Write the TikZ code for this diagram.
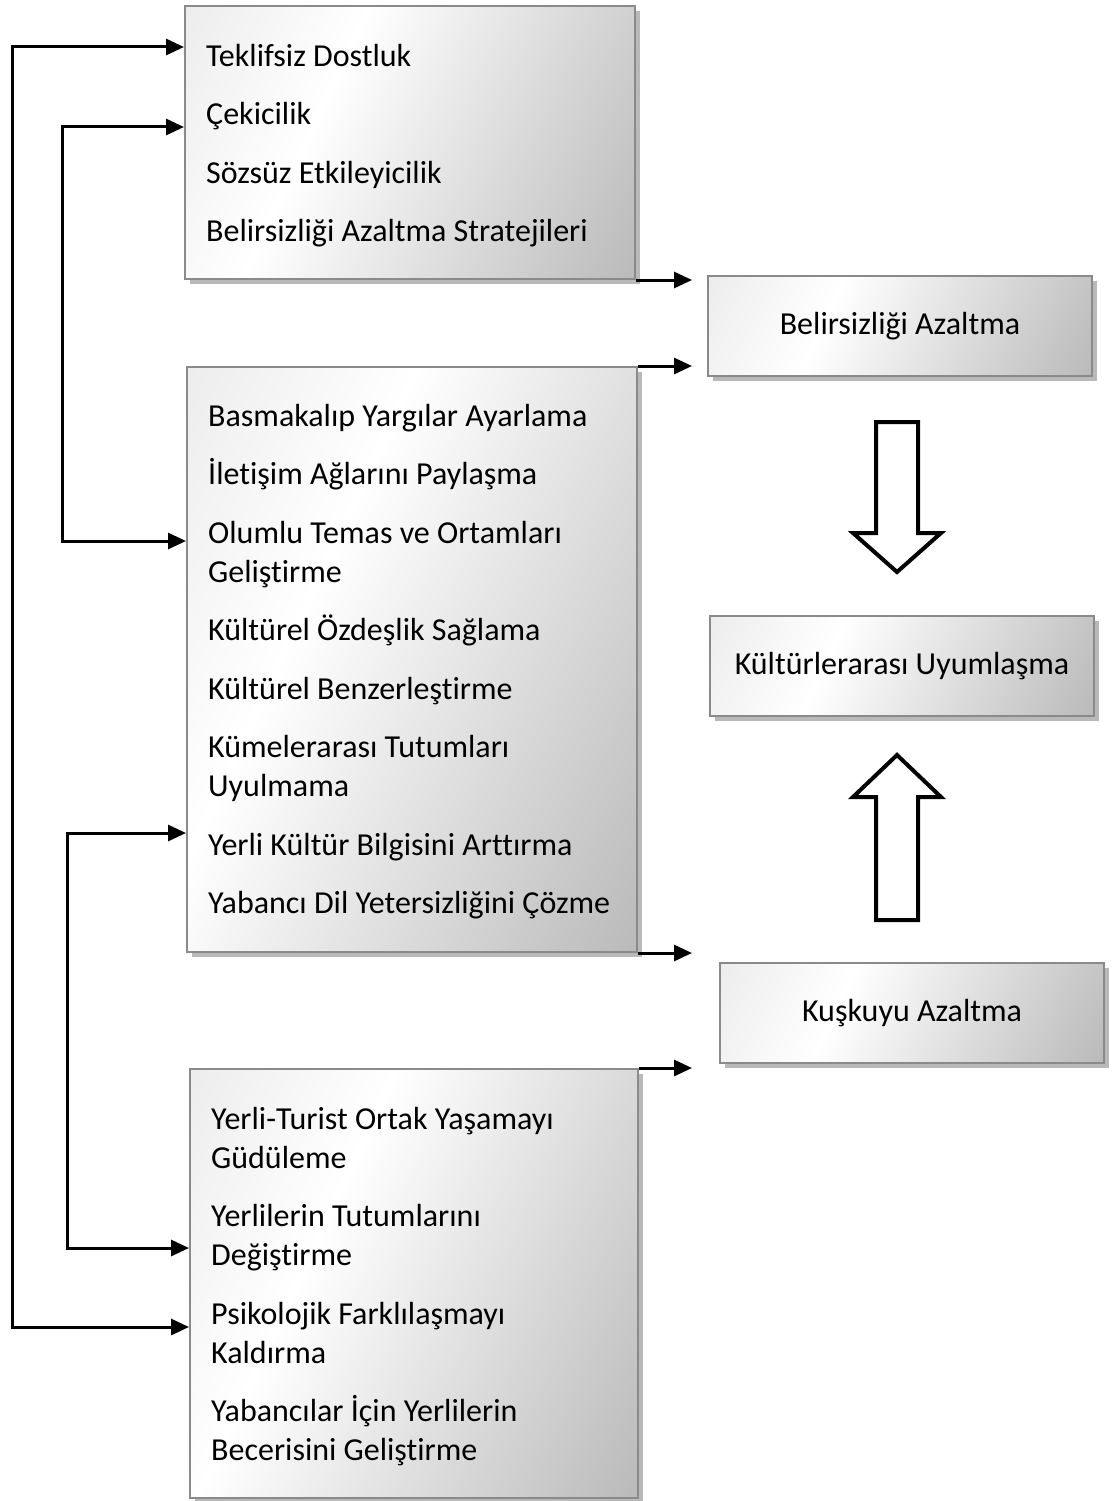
\documentclass[tikz,border=0pt]{standalone}
\usepackage{fontspec}
\setmainfont[Ligatures=CommonOff]{Carlito}
\usepackage{tikz}
\usetikzlibrary{positioning,shadows,arrows.meta}
\definecolor{boxborder}{RGB}{138,138,138}
\definecolor{boxshadow}{RGB}{185,185,185}
\definecolor{shadelight}{RGB}{222,222,222}
\definecolor{shadedark}{RGB}{160,160,160}
\pgfdeclarehorizontalshading{boxshade}{100bp}{color(0bp)=(shadelight); color(38bp)=(white); color(100bp)=(shadedark)}
\tikzset{
    grad-box/.style = {draw=boxborder, line width=2pt, rectangle, shading=boxshade, shading angle=-25, inner sep=0pt, anchor=north west,
        drop shadow={shadow xshift=5pt, shadow yshift=-5pt, fill=boxshadow, opacity=1}},
    item-text/.style = {inner sep=0pt, align=left, font=\fontsize{32}{39}\selectfont},
    link/.style = {line width=3pt, -{Triangle[length=18pt, width=16pt]}},
    link-both/.style = {line width=3pt, {Triangle[length=18pt, width=16pt]}-{Triangle[length=18pt, width=16pt]}},
    block-arrow/.style = {draw=black, line width=4pt, fill=white, line join=miter},
}

\begin{document}
\begin{tikzpicture}[x=1pt, y=-1pt]
\useasboundingbox (0,0) rectangle (1114,1501);

% left boxes
\node[grad-box, minimum width=450pt, minimum height=273pt] (b1) at (184,5) {};
\node[grad-box, minimum width=450pt, minimum height=585pt] (b3) at (186,366) {};
\node[grad-box, minimum width=448pt, minimum height=429pt] (b6) at (189,1068) {};

\node[item-text, right=22pt of b1.west, yshift=-3pt] (t1) {Teklifsiz Dostluk\\[19.5pt]
    Çekicilik\\[19.5pt]
    Sözsüz Etkileyicilik\\[19.5pt]
    Belirsizliği Azaltma Stratejileri};
\node[item-text, right=22pt of b3.west, yshift=-2pt] (t3) {Basmakalıp Yargılar Ayarlama\\[19.5pt]
    İletişim Ağlarını Paylaşma\\[19.5pt]
    Olumlu Temas ve Ortamları\\Geliştirme\\[19.5pt]
    Kültürel Özdeşlik Sağlama\\[19.5pt]
    Kültürel Benzerleştirme\\[19.5pt]
    Kümelerarası Tutumları\\Uyulmama\\[19.5pt]
    Yerli Kültür Bilgisini Arttırma\\[19.5pt]
    Yabancı Dil Yetersizliğini Çözme};
\node[item-text, right=22pt of b6.west, yshift=-3pt] (t6) {Yerli-Turist Ortak Yaşamayı\\Güdüleme\\[19.5pt]
    Yerlilerin Tutumlarını\\Değiştirme\\[19.5pt]
    Psikolojik Farklılaşmayı\\Kaldırma\\[19.5pt]
    Yabancılar İçin Yerlilerin\\Becerisini Geliştirme};

% right boxes
\node[grad-box, minimum width=384pt, minimum height=100pt, item-text] (b2) at (707,275) {Belirsizliği Azaltma};
\node[grad-box, minimum width=384pt, minimum height=100pt, item-text] (b4) at (709,615) {Kültürlerarası Uyumlaşma};
\node[grad-box, minimum width=384pt, minimum height=100pt, item-text] (b5) at (719,962) {Kuşkuyu Azaltma};

% block arrows
\draw[block-arrow] (876,422) -- (918,422) -- (918,533) -- (941,533) -- (897,572) -- (853,533) -- (876,533) -- cycle;
\draw[block-arrow] (876,920) -- (918,920) -- (918,797) -- (941,797) -- (897,755) -- (853,797) -- (876,797) -- cycle;

% feedback lines
\coordinate (in1) at (184,47);
\coordinate (in2) at (184,127);
\coordinate (in3) at (186,541);
\coordinate (in4) at (186,833);
\coordinate (in5) at (189,1248);
\coordinate (in6) at (189,1327);
\draw[link-both] (in1) -- ++(-172,0) |- (in6);
\draw[link-both] (in2) -- ++(-122,0) |- (in3);
\draw[link-both] (in4) -- ++(-119,0) |- (in5);

% outputs
\draw[link] (b1.south east) -- ++(56,0);
\draw[link] (b3.north east) -- ++(54,0);
\draw[link] (b3.south east) -- ++(54,0);
\draw[link] (b6.north east) -- ++(53,0);
\end{tikzpicture}
\end{document}
